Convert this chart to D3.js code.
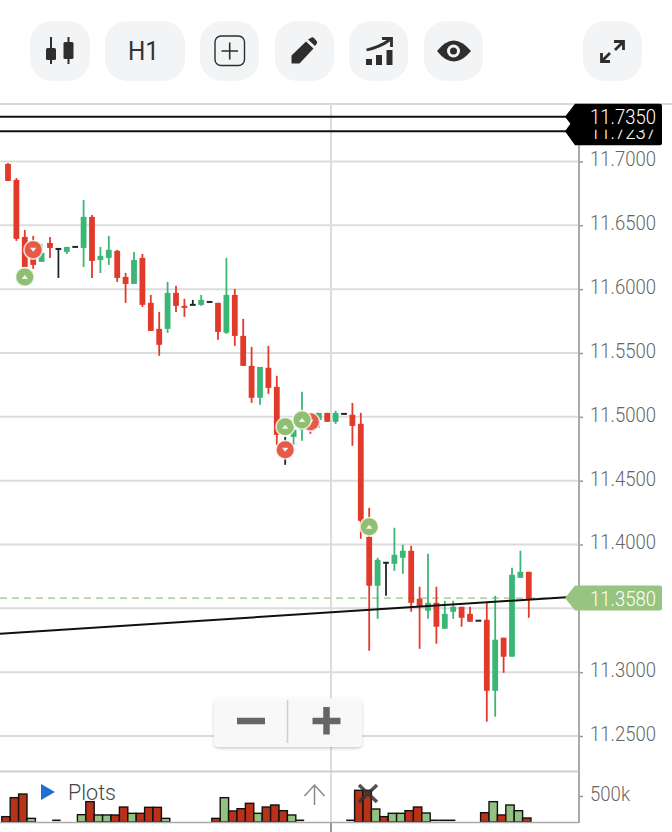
<!DOCTYPE html>
<html><head><meta charset="utf-8">
<script src="https://cdn.jsdelivr.net/npm/d3@7/dist/d3.min.js"></script>
<style>html,body{margin:0;padding:0;background:#fff;overflow:hidden}svg{display:block;font-family:Roboto,sans-serif}</style>
</head><body><div id="c"></div>
<script>
const opens =[11.6981,11.6856,11.6409,11.6308,11.6214,11.6362,11.6315,11.6292,11.6331,11.6323,11.6566,11.6229,11.6245,11.63,11.6096,11.6041,11.6245,11.5893,11.5689,11.5689,11.5971,11.5869,11.5877,11.5877,11.59,11.5893,11.5658,11.5955,11.5634,11.5399,11.5149,11.5384,11.5235,11.4742,11.4843,11.4898,11.5,11.4976,11.5031,11.4961,11.5023,11.5016,11.4945,11.406,11.3677,11.3857,11.3849,11.3896,11.3951,11.3575,11.3481,11.3543,11.334,11.3473,11.3512,11.3457,11.3403,11.341,11.2854,11.327,11.3121,11.3739,11.3786];
const closes=[11.6848,11.6394,11.6174,11.619,11.6284,11.6323,11.6315,11.6331,11.6331,11.6566,11.6221,11.6261,11.6308,11.6088,11.6041,11.6229,11.5877,11.5673,11.5564,11.5971,11.5869,11.5853,11.5877,11.5916,11.59,11.5665,11.5955,11.5634,11.5399,11.5149,11.5391,11.5227,11.4859,11.4742,11.4898,11.4976,11.4898,11.5031,11.4961,11.5031,11.5023,11.4929,11.4185,11.3677,11.388,11.3857,11.3919,11.3951,11.3543,11.3512,11.3543,11.3356,11.3457,11.3512,11.3426,11.3395,11.3403,11.2854,11.3254,11.3121,11.3763,11.3786,11.3567];
const highs =[11.6989,11.6871,11.6464,11.6417,11.6354,11.6409,11.6323,11.6331,11.6331,11.6699,11.6581,11.6331,11.6417,11.6308,11.6127,11.6292,11.6276,11.5955,11.5822,11.6057,11.6026,11.5924,11.5916,11.5955,11.59,11.5893,11.6245,11.6002,11.5767,11.5548,11.5391,11.5556,11.5321,11.4843,11.4937,11.5196,11.5,11.5031,11.5031,11.5047,11.5023,11.5109,11.5031,11.4287,11.3896,11.3857,11.4131,11.3998,11.399,11.3669,11.3927,11.3669,11.3559,11.3559,11.3512,11.3512,11.3403,11.3551,11.3598,11.327,11.3818,11.3951,11.3786];
const lows  =[11.6848,11.6378,11.6174,11.6159,11.6214,11.6245,11.6088,11.6276,11.6331,11.6174,11.6088,11.6127,11.619,11.6057,11.5893,11.6041,11.5861,11.5673,11.5478,11.5658,11.5822,11.5783,11.5877,11.5869,11.59,11.5603,11.565,11.5556,11.5399,11.5109,11.5094,11.518,11.4781,11.4624,11.4781,11.4812,11.4867,11.4914,11.4961,11.4945,11.5023,11.4773,11.4045,11.3168,11.3418,11.3598,11.3794,11.3771,11.3473,11.3183,11.3418,11.3223,11.334,11.3418,11.3356,11.3395,11.3403,11.2612,11.2651,11.2995,11.3121,11.3739,11.3426];
const priceTicks=[11.25,11.30,11.35,11.40,11.45,11.50,11.55,11.60,11.65,11.70];
const priceLabels=[11.25,11.30,11.40,11.45,11.50,11.55,11.60,11.65,11.70];
const volumes=[103,468,538,70,0,0,32,0,0,141,391,135,135,135,288,167,167,282,282,70,0,0,0,0,0,70,468,212,256,359,167,288,327,218,135,32,0,0,0,0,0,32,609,609,250,103,167,167,218,288,173,32,32,32,0,0,0,179,391,135,327,218,77];
const volumeSides=["d","d","d","u","x","x","k","x","x","u","d","u","u","d","d","u","d","d","d","u","x","x","x","x","x","d","u","d","d","d","u","d","d","d","u","k","x","x","x","x","x","k","d","d","u","d","u","u","d","d","u","k","k","k","x","x","x","d","u","d","u","u","d"];
const volumeTicks=[500];
const signalUp=[[2,11.6096],[43,11.4139],[33,11.4922],[35,11.4976]];
const signalDown=[[36,11.4961],[3,11.6308],[33,11.4742]];
const levelPrices=[11.7350,11.7237];
const lastPrice=11.3580;
const trendIndex=[-1,67.4], trendPrice=[11.3301,11.3591];
const tools=[[30,60],[105,80],[200,59],[275,59],[349,59],[424,59],[583,59]];

const W=672,H=832,axisX=579;
const svg=d3.select("#c").append("svg").attr("width",W).attr("height",H);
const x=d3.scaleLinear().domain([0,62]).range([8,528.8]);
const y=d3.scaleLinear().domain([11.25,11.70]).range([736,161.5]);
const vy=d3.scaleLinear().domain([0,500]).range([822,796]);
const RED="#e23a2a",GREEN="#3bb677",BLACK="#20262b",SGREEN="#90bf74",SRED="#e85a48";

// toolbar
const tb=svg.append("g");
tb.selectAll("rect").data(tools).join("rect")
 .attr("x",d=>d[0]).attr("y",21).attr("width",d=>d[1]).attr("height",60).attr("rx",22).attr("fill","#f2f4f5");
const ic="#2e2e2e";
[[51,37,64,48,60],[68.5,37,64,42,59]].forEach(d=>{
 tb.append("line").attr("x1",d[0]).attr("x2",d[0]).attr("y1",d[1]).attr("y2",d[2]).attr("stroke",ic).attr("stroke-width",2);
 tb.append("rect").attr("x",d[0]-5).attr("y",d[3]).attr("width",10).attr("height",d[4]-d[3]).attr("rx",1.5).attr("fill",ic);
});
tb.append("text").attr("x",128).attr("y",60).attr("font-size",25).attr("textLength",31).attr("lengthAdjust","spacingAndGlyphs").attr("fill","#333").text("H1");
tb.append("rect").attr("x",215).attr("y",36).attr("width",29.5).attr("height",29.5).attr("rx",6).attr("fill","none").attr("stroke",ic).attr("stroke-width",1.4);
tb.append("path").attr("d","M229.7 42.5V59.5M221.5 51H238").attr("stroke",ic).attr("stroke-width",1.6).attr("fill","none");
tb.append("path").attr("d","M291.5 63.5V55.5L306 41.5L313.5 48.5L299.5 63.5Z M308 39.5L311.5 37.5Q313 37 314 38L317 41.5Q317.5 43 316.5 44L315 46Z").attr("fill",ic);
[[366,59,6],[376,55,10],[386.5,50,15]].forEach(d=>tb.append("rect").attr("x",d[0]).attr("y",d[1]).attr("width",6).attr("height",d[2]).attr("fill",ic));
tb.append("path").attr("d","M366.5 50Q380 47 389.5 40").attr("stroke",ic).attr("stroke-width",2.8).attr("fill","none");
tb.append("path").attr("d","M382 38.5H391.5V47").attr("stroke",ic).attr("stroke-width",2.8).attr("fill","none");
tb.append("path").attr("d","M437 51Q453.5 30 471 51Q453.5 72 437 51Z").attr("fill",ic);
tb.append("circle").attr("cx",453.5).attr("cy",51).attr("r",6.5).attr("fill","#f2f4f5");
tb.append("circle").attr("cx",453.5).attr("cy",51).attr("r",3.5).attr("fill",ic);
tb.append("path").attr("d","M614 41.5H623.5V50 M623 42L615 50").attr("stroke",ic).attr("stroke-width",2.8).attr("fill","none");
tb.append("path").attr("d","M601.5 53V61.5H610 M602 61L610 53").attr("stroke",ic).attr("stroke-width",2.8).attr("fill","none");

// frame and grid
svg.append("line").attr("x1",0).attr("x2",W).attr("y1",104).attr("y2",104).attr("stroke","#d9d9d9").attr("stroke-width",2);
svg.append("g").selectAll("line").data(priceTicks).join("line")
 .attr("x1",0).attr("x2",axisX).attr("y1",d=>y(d)).attr("y2",d=>y(d)).attr("stroke","#dcdcdc").attr("stroke-width",2);
svg.append("line").attr("x1",331).attr("x2",331).attr("y1",104).attr("y2",822).attr("stroke","#dcdcdc").attr("stroke-width",2);
svg.append("line").attr("x1",331).attr("x2",331).attr("y1",822).attr("y2",832).attr("stroke","#999").attr("stroke-width",2);
svg.append("line").attr("x1",0).attr("x2",axisX).attr("y1",771.5).attr("y2",771.5).attr("stroke","#cfcfcf").attr("stroke-width",2);

// axes
function styleAxis(g,len){
 g.select(".domain").remove();
 g.selectAll(".tick line").attr("stroke","#999").attr("stroke-width",1.5);
 g.selectAll(".tick text").attr("font-size",20).attr("font-weight",300).attr("fill","#666").attr("dy","0.32em").attr("y",-2)
  .attr("font-family","Roboto,sans-serif").attr("textLength",len).attr("lengthAdjust","spacingAndGlyphs");
}
svg.append("g").attr("transform",`translate(${axisX},0)`)
 .call(d3.axisRight(y).tickValues(priceLabels).tickSize(4).tickPadding(7).tickFormat(d3.format(".4f")))
 .call(styleAxis,66);
svg.append("line").attr("x1",axisX).attr("x2",axisX).attr("y1",104).attr("y2",823).attr("stroke","#aaa").attr("stroke-width",2);
svg.append("g").attr("transform",`translate(${axisX},0)`)
 .call(d3.axisRight(vy).tickValues(volumeTicks).tickSize(4).tickPadding(7).tickFormat(d=>d+"k"))
 .call(styleAxis,40);

// volume
const volG=svg.append("g");
const barW=x(1)-x(0);
volumes.forEach((v,i)=>{
 if(!v)return;
 const s=volumeSides[i], bx=x(i)-2-barW/2;
 if(s==="k"){volG.append("line").attr("x1",bx).attr("x2",bx+barW).attr("y1",vy(v)).attr("y2",vy(v)).attr("stroke","#111").attr("stroke-width",1.6);return;}
 volG.append("rect").attr("x",bx).attr("y",vy(v)).attr("width",barW).attr("height",vy(0)-vy(v))
  .attr("fill",s==="d"?"#b8321a":"#94c182").attr("stroke","#111").attr("stroke-width",1.4);
});
svg.append("line").attr("x1",0).attr("x2",axisX).attr("y1",822.5).attr("y2",822.5).attr("stroke","#aaa").attr("stroke-width",1.5);

// plots legend
svg.append("path").attr("d","M41 784L55 792L41 800Z").attr("fill","#1f6fd6");
svg.append("text").attr("x",68).attr("y",800).attr("font-size",22).attr("font-weight",300).attr("textLength",48).attr("lengthAdjust","spacingAndGlyphs").attr("fill","#444").text("Plots");
svg.append("path").attr("d","M314.5 805V785M304.5 796L314.5 785L324.5 796").attr("stroke","#888").attr("stroke-width",1.5).attr("fill","none");
svg.append("path").attr("d","M359 785L377 802M377 785L359 802").attr("stroke","#333").attr("stroke-opacity",.85).attr("stroke-width",3.5).attr("fill","none");

// last price dashed line
svg.append("line").attr("x1",0).attr("x2",568).attr("y1",y(lastPrice)).attr("y2",y(lastPrice))
 .attr("stroke","#b5d6a6").attr("stroke-width",1.6).attr("stroke-dasharray","7 5");

// candles
const colorOf=i=>closes[i]>opens[i]?GREEN:closes[i]<opens[i]?RED:BLACK;
const cg=svg.append("g");
cg.selectAll("line").data(opens).join("line")
 .attr("x1",(d,i)=>x(i)).attr("x2",(d,i)=>x(i)).attr("y1",(d,i)=>y(highs[i])).attr("y2",(d,i)=>y(lows[i]))
 .attr("stroke",(d,i)=>colorOf(i)).attr("stroke-width",1.8);
cg.selectAll("rect").data(opens).join("rect")
 .attr("x",(d,i)=>x(i)-2.9).attr("width",5.8)
 .attr("y",(d,i)=>Math.min(y(opens[i]),y(closes[i]))-(colorOf(i)===BLACK?1:0))
 .attr("height",(d,i)=>colorOf(i)===BLACK?2:Math.abs(y(opens[i])-y(closes[i])))
 .attr("fill",(d,i)=>colorOf(i));

// trend and level lines
svg.append("line").attr("x1",x(trendIndex[0])).attr("x2",x(trendIndex[1])).attr("y1",y(trendPrice[0])).attr("y2",y(trendPrice[1])).attr("stroke","#111").attr("stroke-width",2);
svg.append("g").selectAll("line").data(levelPrices).join("line")
 .attr("x1",0).attr("x2",570).attr("y1",d=>y(d)).attr("y2",d=>y(d)).attr("stroke","#111").attr("stroke-width",2);

// signals
const sg=svg.append("g");
function mark(list,fill,up){
 list.forEach(d=>{
  const cx=x(d[0]),cy=y(d[1]);
  sg.append("circle").attr("cx",cx).attr("cy",cy).attr("r",9.3).attr("fill",fill).attr("stroke","#fff").attr("stroke-opacity",.75).attr("stroke-width",1.6);
  sg.append("path").attr("transform",`translate(${cx},${cy})`).attr("d",up?"M-3.2 2L0 -2L3.2 2Z":"M-3.2 -2L3.2 -2L0 2Z").attr("fill","#f4f7ef");
 });
}
mark(signalDown,SRED,false);
mark(signalUp,SGREEN,true);

// labels on price axis
function tag(price,fill,h){
 const c=y(price),t=c-h/2,b=c+h/2;
 svg.append("path").attr("d",`M565 ${c}L575 ${t}H660Q662 ${t} 662 ${t+2}V${b-2}Q662 ${b} 660 ${b}H575Z`).attr("fill",fill);
}
const labelFmt=d3.format(".4f");
function tagText(price,fill){
 svg.append("text").attr("x",590).attr("y",y(price)+7.5).attr("font-size",20).attr("font-weight",300).attr("textLength",66).attr("lengthAdjust","spacingAndGlyphs").attr("fill",fill).text(labelFmt(price));
}
tag(levelPrices[1],"#000",28);
tagText(levelPrices[1],"#fff");
tag(levelPrices[0],"#000",26);
tagText(levelPrices[0],"#fff");
tag(lastPrice,"#97c47f",25);
tagText(lastPrice,"#fff");

// zoom buttons
const defs=svg.append("defs");
const f=defs.append("filter").attr("id","sh").attr("x","-10%").attr("y","-10%").attr("width","120%").attr("height","130%");
f.append("feDropShadow").attr("dx",0).attr("dy",1.5).attr("stdDeviation",1.5).attr("flood-color","#000").attr("flood-opacity",.22);
const zb=svg.append("g");
zb.append("rect").attr("x",214).attr("y",698).attr("width",148).attr("height",49).attr("rx",5).attr("fill","#fafafa").attr("fill-opacity",.93).attr("filter","url(#sh)");
zb.append("line").attr("x1",287.5).attr("x2",287.5).attr("y1",700).attr("y2",743).attr("stroke","#cfcfcf").attr("stroke-width",1.5);
zb.append("path").attr("d","M237 721H265M312.5 721H340.5M326.5 707V734.5").attr("stroke","#666").attr("stroke-width",6.5).attr("fill","none");
</script></body></html>
